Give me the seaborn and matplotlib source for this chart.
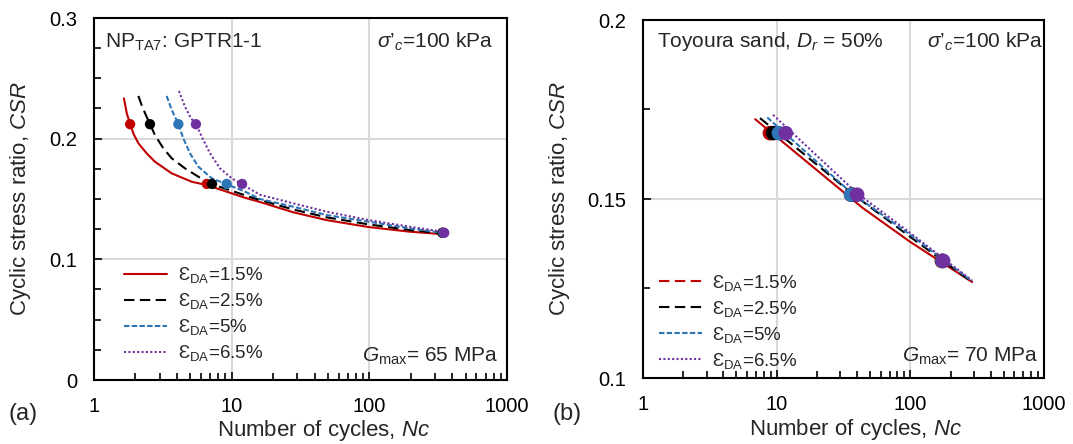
import numpy as np
import pandas as pd
import seaborn as sns
import matplotlib
matplotlib.use("Agg")
import matplotlib.pyplot as plt
from matplotlib.lines import Line2D

# ---------------- data ----------------
strain_labels = ["1.5%", "2.5%", "5%", "6.5%"]

# (a) NP_TA7 : fitted curves (N, CSR) and test points
a_curve_N = {
    "1.5%": [1.65, 1.73, 1.83, 1.93, 2.10, 2.41, 2.77, 3.66, 5.12, 6.58, 12.5, 16.05, 28.0, 49.0, 98.2, 197, 326],
    "2.5%": [2.10, 2.24, 2.41, 2.55, 2.77, 3.19, 3.67, 4.58, 5.72, 7.23, 14.0, 16.05, 28.0, 49.0, 98.2, 197, 330],
    "5%":   [3.37, 3.67, 4.10, 4.45, 4.98, 5.72, 7.16, 9.20, 12.5, 16.05, 28.0, 49.0, 98.2, 197, 335],
    "6.5%": [4.14, 4.58, 5.06, 5.51, 6.06, 6.96, 8.22, 10.0, 11.9, 16.05, 28.0, 49.0, 98.2, 197, 340],
}
a_curve_csr = {
    "1.5%": [0.2334, 0.2210, 0.2122, 0.2044, 0.1962, 0.1879, 0.1809, 0.1713, 0.1643, 0.1616, 0.1510, 0.1475, 0.1390, 0.1325, 0.1268, 0.1229, 0.1210],
    "2.5%": [0.2354, 0.2265, 0.2182, 0.2122, 0.2030, 0.1920, 0.1837, 0.1754, 0.1685, 0.1622, 0.1512, 0.1492, 0.1413, 0.1348, 0.1290, 0.1243, 0.1216],
    "5%":   [0.2354, 0.2238, 0.2122, 0.2003, 0.1879, 0.1768, 0.1672, 0.1622, 0.1561, 0.1500, 0.1436, 0.1367, 0.1312, 0.1257, 0.1221],
    "6.5%": [0.2395, 0.2265, 0.2169, 0.2122, 0.2016, 0.1879, 0.1754, 0.1672, 0.1622, 0.1535, 0.1464, 0.1395, 0.1326, 0.1270, 0.1229],
}
a_point_csr = [0.212, 0.1625, 0.122]
a_point_N = {
    "1.5%": [1.83, 6.6, 340],
    "2.5%": [2.55, 7.2, 340],
    "5%":   [4.10, 9.2, 345],
    "6.5%": [5.5, 11.9, 350],
}

# (b) Toyoura sand : fitted lines and test points
b_curve_N = {
    "1.5%": [6.9, 44, 100, 290],
    "2.5%": [7.5, 37, 100, 290],
    "5%":   [8.5, 36, 100, 290],
    "6.5%": [9.4, 40, 100, 290],
}
b_curve_csr = {
    "1.5%": [0.1723, 0.1475, 0.1380, 0.1268],
    "2.5%": [0.1726, 0.1514, 0.1394, 0.1268],
    "5%":   [0.1728, 0.1518, 0.1400, 0.1270],
    "6.5%": [0.1735, 0.1516, 0.1405, 0.1272],
}
b_point_csr = [0.1684, 0.1512, 0.1327]
b_point_N = {
    "1.5%": [8.9, 36, 172],
    "2.5%": [9.4, 37, 174],
    "5%":   [10.4, 36, 174],
    "6.5%": [11.7, 40, 176],
}

x_ticks = [1, 10, 100, 1000]
x_ticklabels = ["1", "10", "100", "1000"]
a_yticks = [0, 0.1, 0.2, 0.3]
a_yticklabels = ["0", "0.1", "0.2", "0.3"]
b_yticks = [0.1, 0.15, 0.2]
b_yticklabels = ["0.1", "0.15", "0.2"]

# ---------------- styles ----------------
colors = {"1.5%": "#C00000", "2.5%": "#000000", "5%": "#2E75B6", "6.5%": "#7030A0"}
dashes = {"1.5%": (None, None), "2.5%": (5, 2.6), "5%": (2.6, 1.1), "6.5%": (1, 1.1)}

sns.set_theme(style="white")
plt.rcParams["font.family"] = ["Liberation Sans", "DejaVu Sans"]
plt.rcParams["mathtext.fontset"] = "custom"
plt.rcParams["mathtext.rm"] = "Liberation Sans"
plt.rcParams["mathtext.it"] = "Liberation Sans:italic"
plt.rcParams["mathtext.bf"] = "Liberation Sans:bold"

TICK_FS = 14.5
LABEL_FS = 16
NOTE_FS = 15
LEG_FS = 13.5

fig = plt.figure(figsize=(10.73, 4.44), dpi=100)
ax_a = fig.add_axes([94 / 1073, 64 / 444, 413 / 1073, 362 / 444])
ax_b = fig.add_axes([643 / 1073, 66 / 444, 401 / 1073, 358 / 444])


def long_frame(curve_N, curve_csr):
    rows = []
    for s in strain_labels:
        for n, c in zip(curve_N[s], curve_csr[s]):
            rows.append({"N": n, "CSR": c, "strain": s})
    return pd.DataFrame(rows)


def point_frame(point_N, point_csr):
    rows = []
    for s in strain_labels:
        for n, c in zip(point_N[s], point_csr):
            rows.append({"N": n, "CSR": c, "strain": s})
    return pd.DataFrame(rows)


def draw_panel(ax, curve_N, curve_csr, point_N, point_csr, msize):
    lines = long_frame(curve_N, curve_csr)
    pts = point_frame(point_N, point_csr)
    for s in strain_labels:
        sub = lines[lines["strain"] == s]
        sns.lineplot(data=sub, x="N", y="CSR", ax=ax, color=colors[s],
                     lw=1.5, sort=False, estimator=None, legend=False,
                     zorder=3)
        ln = ax.get_lines()[-1]
        ln.set_solid_joinstyle("round")
        if dashes[s][0] is not None:
            ln.set_dashes(dashes[s])
    for s in strain_labels:
        sub = pts[pts["strain"] == s]
        sns.scatterplot(data=sub, x="N", y="CSR", ax=ax, color=colors[s],
                        s=msize, edgecolor="none", legend=False, zorder=4)


draw_panel(ax_a, a_curve_N, a_curve_csr, a_point_N, a_point_csr, 55)
draw_panel(ax_b, b_curve_N, b_curve_csr, b_point_N, b_point_csr, 110)


def style_axis(ax, yticks, yticklabels, ylim, yminor):
    ax.set_xscale("log")
    ax.set_xlim(1, 1000)
    ax.set_ylim(*ylim)
    ax.set_xticks(x_ticks)
    ax.set_xticklabels(x_ticklabels)
    ax.set_yticks(yticks)
    ax.set_yticklabels(yticklabels)
    ax.yaxis.set_minor_locator(matplotlib.ticker.MultipleLocator(yminor))
    ax.xaxis.set_minor_locator(matplotlib.ticker.LogLocator(base=10, subs=np.arange(2, 10)))
    ax.xaxis.set_minor_formatter(matplotlib.ticker.NullFormatter())
    ax.tick_params(axis="both", which="both", direction="in", colors="black",
                   labelsize=TICK_FS, width=1.2)
    ax.tick_params(axis="both", which="major", length=6)
    ax.tick_params(axis="both", which="minor", length=5)
    ax.tick_params(axis="x", which="both", pad=12, bottom=True, top=False)
    ax.tick_params(axis="y", which="both", pad=12, left=True, right=False)
    ax.grid(True, which="major", color="#D9D9D9", lw=1.5, zorder=0)
    ax.set_axisbelow(True)
    for sp in ax.spines.values():
        sp.set_color("black")
        sp.set_linewidth(1.5)
        sp.set_visible(True)
    ax.set_xlabel("Number of cycles, $Nc$", fontsize=LABEL_FS)
    ax.set_ylabel("Cyclic stress ratio, $CSR$", fontsize=LABEL_FS)


style_axis(ax_a, a_yticks, a_yticklabels, (0, 0.3), 0.025)
style_axis(ax_b, b_yticks, b_yticklabels, (0.1, 0.2), 0.025)

ax_a.yaxis.set_label_coords(-0.148, 0.5)
ax_b.yaxis.set_label_coords(-0.178, 0.5)
ax_a.xaxis.set_label_coords(0.555, -0.104)
ax_b.xaxis.set_label_coords(0.53, -0.11)

# annotations
ax_a.text(0.027, 0.934, r"NP$_\mathregular{TA7}$: GPTR1-1", transform=ax_a.transAxes,
          fontsize=NOTE_FS, ha="left", va="center")
ax_a.text(0.966, 0.934, r"$\sigma$’$_c$=100 kPa", transform=ax_a.transAxes,
          fontsize=NOTE_FS, ha="right", va="center")
ax_a.text(0.978, 0.066, r"$G_\mathregular{max}$= 65 MPa", transform=ax_a.transAxes,
          fontsize=NOTE_FS, ha="right", va="center")

ax_b.text(0.035, 0.939, r"Toyoura sand, $D_r$ = 50%", transform=ax_b.transAxes,
          fontsize=NOTE_FS, ha="left", va="center")
ax_b.text(0.998, 0.939, r"$\sigma$’$_c$=100 kPa", transform=ax_b.transAxes,
          fontsize=NOTE_FS, ha="right", va="center")
ax_b.text(0.985, 0.061, r"$G_\mathregular{max}$= 70 MPa", transform=ax_b.transAxes,
          fontsize=NOTE_FS, ha="right", va="center")

fig.text(8 / 1073, 0.068, "(a)", fontsize=LABEL_FS + 1, ha="left", va="center")
fig.text(553 / 1073, 0.068, "(b)", fontsize=LABEL_FS + 1, ha="left", va="center")


# legends
def legend_handles(red_dashes):
    hs = []
    for s in strain_labels:
        d = dashes[s]
        if s == "1.5%" and red_dashes is not None:
            d = red_dashes
        h = Line2D([0], [0], color=colors[s], lw=1.5)
        if d[0] is not None:
            h.set_dashes(d)
        hs.append(h)
    return hs


labels = [r"Ɛ$_\mathregular{DA}$=" + s for s in strain_labels]

ax_a.legend(legend_handles(None), labels, loc="lower left",
            bbox_to_anchor=(0.055, 0.025), frameon=False, fontsize=LEG_FS,
            handlelength=2.3, handletextpad=0.55, labelspacing=0.32,
            borderaxespad=0)
ax_b.legend(legend_handles((5, 2.6)), labels, loc="lower left",
            bbox_to_anchor=(0.02, 0.0), frameon=False, fontsize=LEG_FS,
            handlelength=2.3, handletextpad=0.55, labelspacing=0.32,
            borderaxespad=0)

fig.savefig("out.png", dpi=100)
